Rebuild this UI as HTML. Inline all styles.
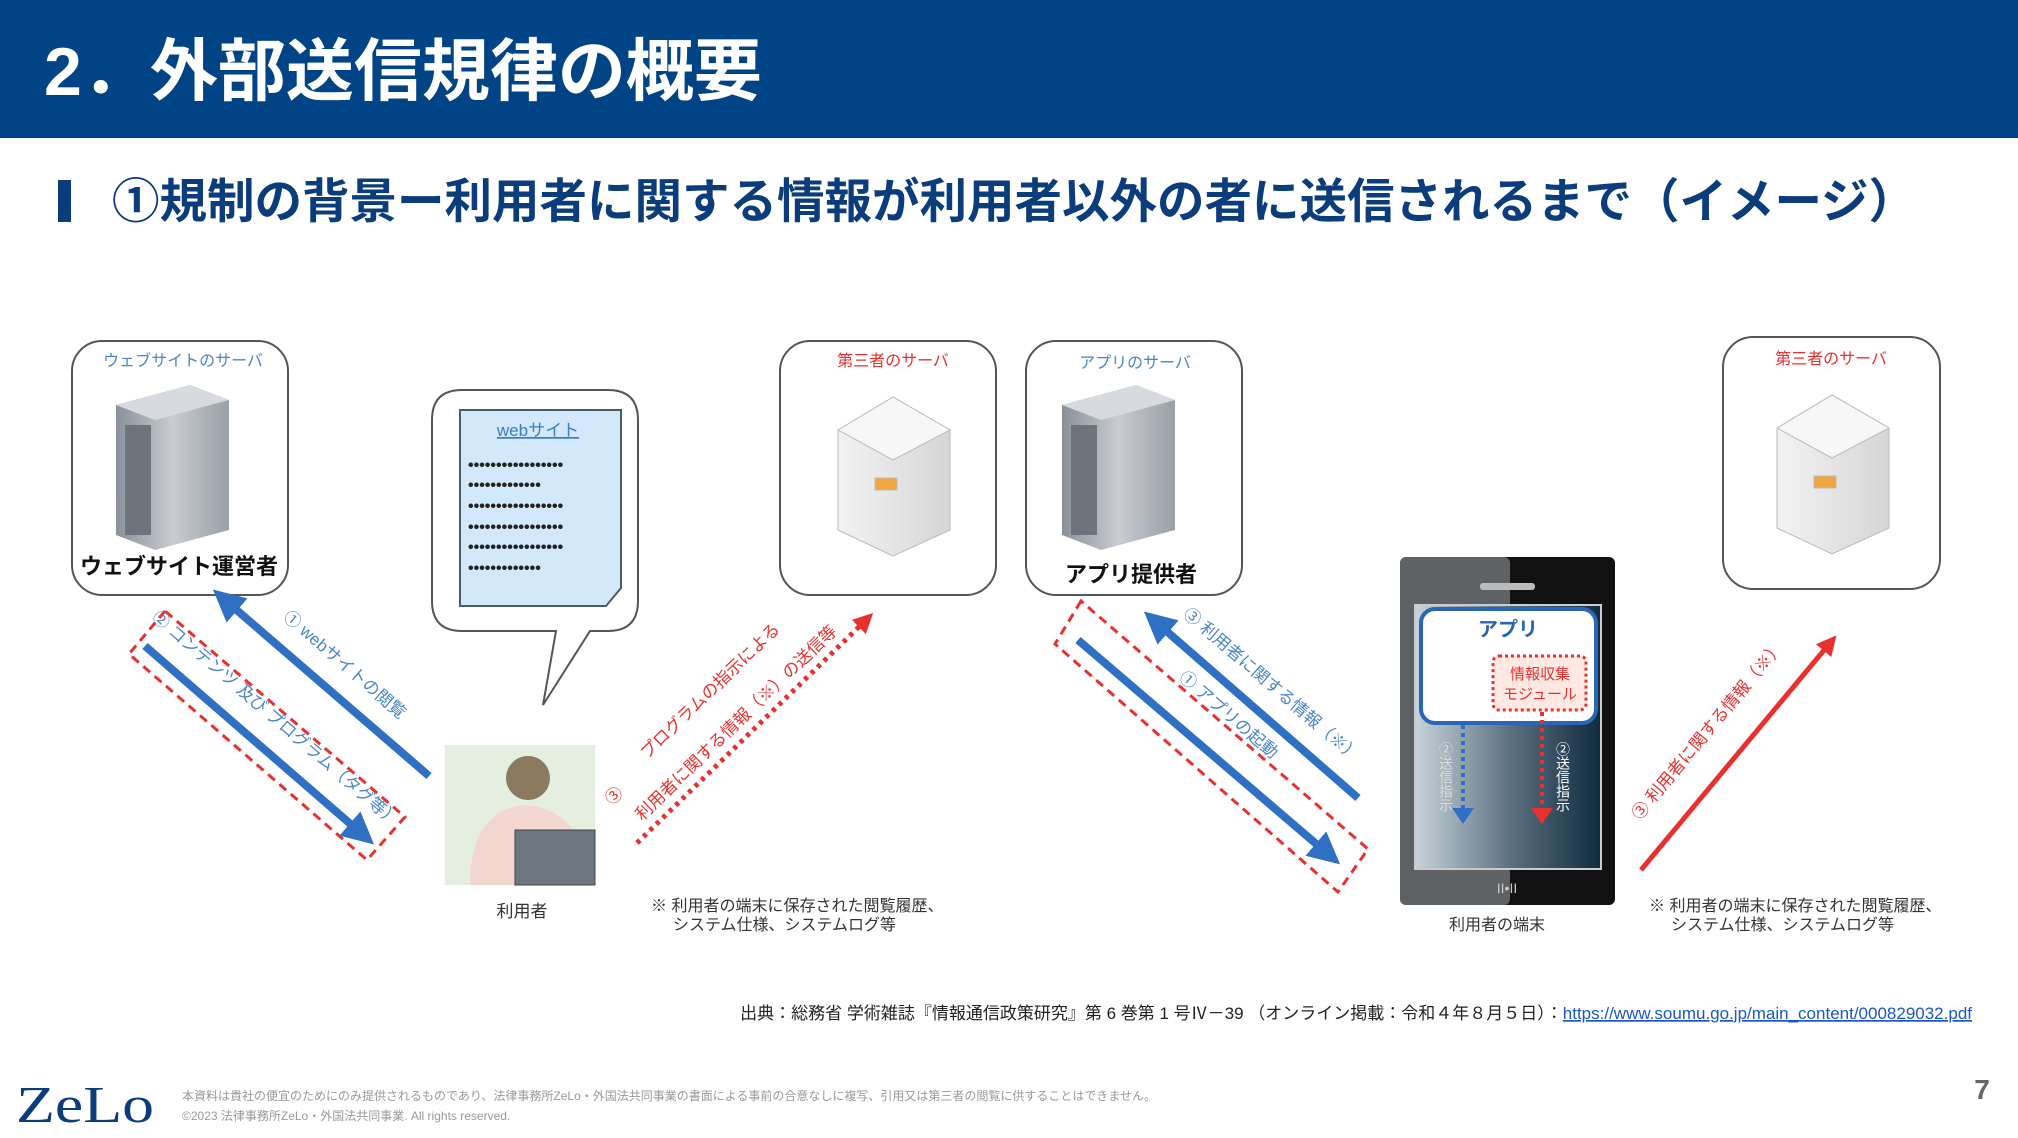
<!DOCTYPE html>
<html><head><meta charset="utf-8"><style>
html,body{margin:0;padding:0;background:#fff;}
body{width:2018px;height:1138px;overflow:hidden;position:relative;font-family:"Liberation Sans","Noto Sans CJK JP",sans-serif;}
</style></head><body>
<svg width="2018" height="1138" viewBox="0 0 2018 1138" xmlns="http://www.w3.org/2000/svg" style="position:absolute;left:0;top:0;font-family:'Liberation Sans','Noto Sans CJK JP',sans-serif">
<defs>
<linearGradient id="gs" x1="0" x2="1"><stop offset="0" stop-color="#8a9099"/><stop offset="0.5" stop-color="#c9ccd1"/><stop offset="1" stop-color="#9aa0a8"/></linearGradient>
<linearGradient id="gw" x1="0" x2="1"><stop offset="0" stop-color="#f3f3f3"/><stop offset="1" stop-color="#d6d6d6"/></linearGradient>
<linearGradient id="ph" x1="0" x2="1"><stop offset="0" stop-color="#c8d3da"/><stop offset="0.5" stop-color="#5e7382"/><stop offset="1" stop-color="#0f2a3e"/></linearGradient>
<marker id="ab" markerWidth="4" markerHeight="4" refX="2" refY="2" orient="auto"><path d="M0,0 L4,2 L0,4 z" fill="#2f6fc4"/></marker>
<marker id="ar" markerWidth="4" markerHeight="4" refX="2" refY="2" orient="auto"><path d="M0,0 L4,2 L0,4 z" fill="#e8312f"/></marker>
</defs>
<rect x="0" y="0" width="2018" height="138" fill="#004486"/>
<text x="44" y="95" font-size="68" font-weight="bold" fill="#fff">2．外部送信規律の概要</text>
<rect x="58" y="180" width="13" height="42" fill="#0b3d7c"/>
<text x="112" y="218" font-size="47.5" font-weight="bold" fill="#0b3d7c">①規制の背景ー利用者に関する情報が利用者以外の者に送信されるまで（イメージ）</text>

<g fill="#fff" stroke="#555" stroke-width="2">
<rect x="72" y="341" width="216" height="254" rx="30"/>
<rect x="780" y="341" width="216" height="254" rx="30"/>
<rect x="1026" y="341" width="216" height="254" rx="30"/>
<rect x="1723" y="337" width="217" height="252" rx="30"/>
<path d="M462,390 H608 Q638,390 638,420 V601 Q638,631 608,631 H590 L543,705 L556,631 H462 Q432,631 432,601 V420 Q432,390 462,390 z"/>
</g>
<text x="183" y="366" font-size="16" fill="#4a86c8" text-anchor="middle">ウェブサイトのサーバ</text>
<text x="179" y="574" font-size="22" font-weight="bold" fill="#111" text-anchor="middle">ウェブサイト運営者</text>
<text x="893" y="366" font-size="16" fill="#e8312f" text-anchor="middle">第三者のサーバ</text>
<text x="1135" y="368" font-size="16" fill="#4a86c8" text-anchor="middle">アプリのサーバ</text>
<text x="1131" y="582" font-size="22" font-weight="bold" fill="#111" text-anchor="middle">アプリ提供者</text>
<text x="1831" y="364" font-size="16" fill="#e8312f" text-anchor="middle">第三者のサーバ</text>

<g>
<polygon points="116,405 190,385 229,400 229,530 155,550 116,535" fill="url(#gs)"/>
<polygon points="116,405 190,385 229,400 155,420" fill="#d7dade"/>
<rect x="125" y="425" width="26" height="110" fill="#6d747d"/>
<polygon points="1062,405 1136,385 1175,400 1175,530 1101,550 1062,535" fill="url(#gs)"/>
<polygon points="1062,405 1136,385 1175,400 1101,420" fill="#d7dade"/>
<rect x="1071" y="425" width="26" height="110" fill="#6d747d"/>
</g>
<g stroke="#bbb" stroke-width="1">
<polygon points="838,430 893,397 950,430 950,530 893,556 838,530" fill="url(#gw)"/>
<polygon points="838,430 893,397 950,430 893,460" fill="#f7f7f7"/>
<rect x="875" y="478" width="22" height="12" fill="#f0a640"/>
<polygon points="1777,428 1832,395 1889,428 1889,528 1832,554 1777,528" fill="url(#gw)"/>
<polygon points="1777,428 1832,395 1889,428 1832,458" fill="#f7f7f7"/>
<rect x="1814" y="476" width="22" height="12" fill="#f0a640"/>
</g>

<path d="M460,410 H621 V588 L606,606 H460 z" fill="#d4e8fb" stroke="#4b5a6a" stroke-width="2"/>
<text x="538" y="436" font-size="17" fill="#3a7cc4" text-anchor="middle" text-decoration="underline">webサイト</text>
<g font-size="16" fill="#222" font-weight="bold">
<text x="468" y="470">•••••••••••••••••</text><text x="468" y="490">•••••••••••••</text>
<text x="468" y="511">•••••••••••••••••</text><text x="468" y="532">•••••••••••••••••</text>
<text x="468" y="552">•••••••••••••••••</text><text x="468" y="573">•••••••••••••</text>
</g>

<rect x="445" y="745" width="150" height="140" fill="#e4efe0"/>
<circle cx="528" cy="778" r="22" fill="#8a7a60"/>
<path d="M470,885 Q470,810 525,805 Q585,810 590,885 z" fill="#f3d6d0"/>
<rect x="515" y="830" width="80" height="55" fill="#6d7680" stroke="#444"/>
<text x="522" y="917" font-size="17" fill="#333" text-anchor="middle">利用者</text>

<polygon points="165,611 129,654 367,860 405,817" fill="none" stroke="#e8312f" stroke-width="3" stroke-dasharray="9,6"/>
<line x1="429" y1="776" x2="225" y2="600" stroke="#2f6fc4" stroke-width="8" marker-end="url(#ab)"/>
<line x1="145" y1="646" x2="362" y2="834" stroke="#2f6fc4" stroke-width="8" marker-end="url(#ab)"/>
<text transform="translate(341,669) rotate(40.7)" font-size="17" fill="#4a86c8" text-anchor="middle">① webサイトの閲覧</text>
<text transform="translate(272,723) rotate(40.7)" font-size="17" fill="#4a86c8" text-anchor="middle">② コンテンツ 及び プログラム（タグ等）</text>
<line x1="637" y1="843" x2="866" y2="620" stroke="#e8312f" stroke-width="5" stroke-dasharray="4,5" marker-end="url(#ar)"/>
<text transform="translate(714,695) rotate(-44)" font-size="17" fill="#e8312f" text-anchor="middle">プログラムの指示による</text>
<text transform="translate(740,727) rotate(-44)" font-size="17" fill="#e8312f" text-anchor="middle">利用者に関する情報（※）の送信等</text>
<text transform="translate(618,800) rotate(-44)" font-size="17" fill="#e8312f" text-anchor="middle">③</text>
<text x="651" y="911" font-size="16" fill="#333">※ 利用者の端末に保存された閲覧履歴、</text>
<text x="673" y="930" font-size="16" fill="#333">システム仕様、システムログ等</text>

<polygon points="1081,601 1055,644 1338,892 1368,849" fill="none" stroke="#e8312f" stroke-width="3" stroke-dasharray="9,6"/>
<line x1="1078" y1="640" x2="1328" y2="854" stroke="#2f6fc4" stroke-width="8" marker-end="url(#ab)"/>
<line x1="1358" y1="798" x2="1156" y2="622" stroke="#2f6fc4" stroke-width="8" marker-end="url(#ab)"/>
<text transform="translate(1268,689) rotate(40.6)" font-size="17" fill="#4a86c8" text-anchor="middle">③ 利用者に関する情報（※）</text>
<text transform="translate(1225,719) rotate(40.6)" font-size="17" fill="#4a86c8" text-anchor="middle">① アプリの起動</text>
<line x1="1641" y1="870" x2="1830" y2="643" stroke="#e8312f" stroke-width="5" marker-end="url(#ar)"/>
<text transform="translate(1712,734) rotate(-50.2)" font-size="17" fill="#e8312f" text-anchor="middle">③ 利用者に関する情報（※）</text>
<text x="1649" y="911" font-size="16" fill="#333">※ 利用者の端末に保存された閲覧履歴、</text>
<text x="1671" y="930" font-size="16" fill="#333">システム仕様、システムログ等</text>

<rect x="1400" y="557" width="215" height="348" rx="6" fill="#111"/>
<rect x="1400" y="557" width="110" height="348" rx="6" fill="#9ea5ab" opacity="0.55"/>
<rect x="1415" y="605" width="186" height="264" fill="url(#ph)" stroke="#ccc" stroke-width="2"/>
<rect x="1480" y="583" width="55" height="7" rx="3" fill="#bbb"/>
<rect x="1421" y="609" width="175" height="114" rx="14" fill="#fff" stroke="#2a66b8" stroke-width="4"/>
<text x="1508" y="636" font-size="20" font-weight="bold" fill="#2a66b8" text-anchor="middle">アプリ</text>
<rect x="1493" y="656" width="93" height="54" rx="6" fill="#fde8e2" stroke="#e8312f" stroke-width="3" stroke-dasharray="3,3"/>
<text x="1540" y="679" font-size="15" fill="#e8312f" text-anchor="middle">情報収集</text>
<text x="1540" y="699" font-size="15" fill="#e8312f" text-anchor="middle">モジュール</text>
<line x1="1463" y1="725" x2="1463" y2="810" stroke="#2f6fc4" stroke-width="4" stroke-dasharray="4,4"/>
<polygon points="1452,808 1474,808 1463,824" fill="#2f6fc4"/>
<line x1="1542" y1="712" x2="1542" y2="810" stroke="#e8312f" stroke-width="4" stroke-dasharray="4,4"/>
<polygon points="1531,808 1553,808 1542,824" fill="#e8312f"/>
<text x="1446" y="742" font-size="14" fill="#ddd" writing-mode="tb">②送信指示</text>
<text x="1563" y="742" font-size="14" fill="#fff" writing-mode="tb">②送信指示</text>
<text x="1507" y="893" font-size="14" fill="#ccc" text-anchor="middle">II•II</text>
<text x="1497" y="930" font-size="16" fill="#333" text-anchor="middle">利用者の端末</text>

<text x="1972" y="1019" font-size="17" fill="#222" text-anchor="end">出典：総務省 学術雑誌『情報通信政策研究』第 6 巻第 1 号Ⅳ－39 （オンライン掲載：令和４年８月５日）：<tspan fill="#1a56c8" text-decoration="underline">https://www.soumu.go.jp/main_content/000829032.pdf</tspan></text>

<text x="16" y="1122" font-size="52" fill="#0b3d7c" font-family="'Liberation Serif',serif" textLength="138" lengthAdjust="spacingAndGlyphs">ZeLo</text>
<text x="182" y="1100" font-size="12" fill="#999">本資料は貴社の便宜のためにのみ提供されるものであり、法律事務所ZeLo・外国法共同事業の書面による事前の合意なしに複写、引用又は第三者の閲覧に供することはできません。</text>
<text x="182" y="1120" font-size="12" fill="#999">©2023 法律事務所ZeLo・外国法共同事業. All rights reserved.</text>
<text x="1982" y="1099" font-size="28" font-weight="bold" fill="#666" text-anchor="middle">7</text>
</svg>
</body></html>
